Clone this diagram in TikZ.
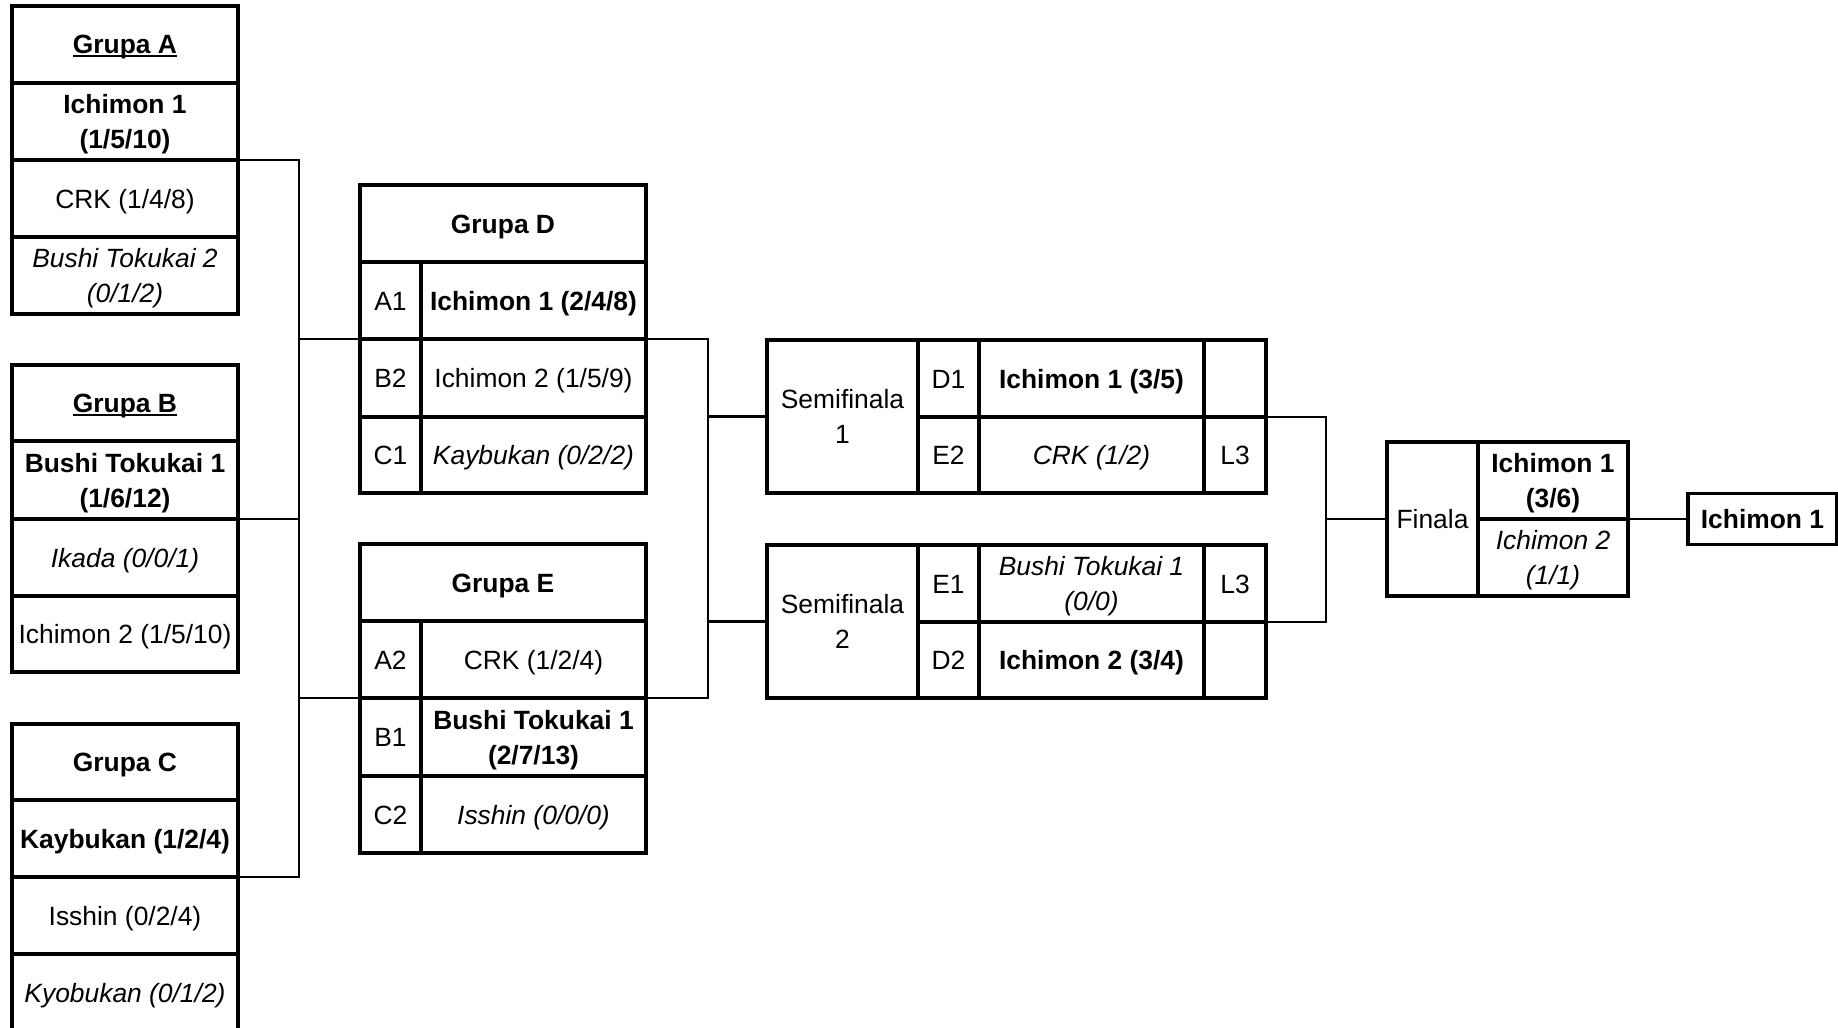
\documentclass[tikz,border=0pt]{standalone}
\usepackage{fontspec}
\setmainfont{Liberation Sans}
\newcommand\fsz{\fontsize{13.2}{17.5}\selectfont}
\newcommand\ulx[1]{\setbox0\hbox{#1}\rlap{\rule[-1.7pt]{\wd0}{1pt}}\box0}
\newcommand\mkcell[7][]{%
  \node[cellst,#1,minimum width={(#5-#3)*0.5pt},minimum height={(#6-#4)*0.5pt}] (#2) at ({(#3+#5)/2},{(#4+#6)/2}) {\rule[-3pt]{0pt}{15.5pt}#7\rule[-3pt]{0pt}{0pt}};}
\begin{document}
\begin{tikzpicture}[x=0.5pt,y=-0.5pt,
  cellst/.style={draw,line width=1.6pt,inner sep=0pt,outer sep=0pt,align=center,font=\fsz},
  txtbf/.style={font=\fsz\bfseries},
  txtit/.style={font=\fsz\itshape},
  conn/.style={line width=1.4pt}]
\useasboundingbox (0,0) rectangle (1838,1028);
\fill[white] (0,0) rectangle (1838,1028);
\begin{scope}
\clip (0,0) rectangle (1838,1028);
% Group A
\mkcell[txtbf]{ga}{12}{6}{238}{83}{\ulx{Grupa A}}
\mkcell[txtbf]{a1}{12}{83}{238}{160}{Ichimon 1\\(1/5/10)}
\mkcell{a2}{12}{160}{238}{237}{CRK (1/4/8)}
\mkcell[txtit]{a3}{12}{237}{238}{314}{Bushi Tokukai 2\\(0/1/2)}
% Group B
\mkcell[txtbf]{gb}{12}{365}{238}{441}{\ulx{Grupa B}}
\mkcell[txtbf]{b1}{12}{441}{238}{519}{Bushi Tokukai 1\\(1/6/12)}
\mkcell[txtit]{b2}{12}{519}{238}{596}{Ikada (0/0/1)}
\mkcell{b3}{12}{596}{238}{672}{Ichimon 2 (1/5/10)}
% Group C
\mkcell[txtbf]{gc}{12}{724}{238}{800}{Grupa C}
\mkcell[txtbf]{c1}{12}{800}{238}{877}{Kaybukan (1/2/4)}
\mkcell{c2}{12}{877}{238}{954}{Isshin (0/2/4)}
\mkcell[txtit]{c3}{12}{954}{238}{1031}{Kyobukan (0/1/2)}
% Group D
\mkcell[txtbf]{gd}{360}{185}{646}{262}{Grupa D}
\mkcell{dl1}{360}{262}{421}{339}{A1}
\mkcell[txtbf]{d1}{421}{262}{646}{339}{Ichimon 1 (2/4/8)}
\mkcell{dl2}{360}{339}{421}{417}{B2}
\mkcell{d2}{421}{339}{646}{417}{Ichimon 2 (1/5/9)}
\mkcell{dl3}{360}{417}{421}{493}{C1}
\mkcell[txtit]{d3}{421}{417}{646}{493}{Kaybukan (0/2/2)}
% Group E
\mkcell[txtbf]{ge}{360}{544}{646}{621}{Grupa E}
\mkcell{el1}{360}{621}{421}{698}{A2}
\mkcell{e1}{421}{621}{646}{698}{CRK (1/2/4)}
\mkcell{el2}{360}{698}{421}{776}{B1}
\mkcell[txtbf]{e2}{421}{698}{646}{776}{Bushi Tokukai 1\\(2/7/13)}
\mkcell{el3}{360}{776}{421}{853}{C2}
\mkcell[txtit]{e3}{421}{776}{646}{853}{Isshin (0/0/0)}
% Semifinal 1
\mkcell{s1t}{767}{340}{918}{493}{Semifinala\\1}
\mkcell{s1l1}{918}{340}{979}{417}{D1}
\mkcell[txtbf]{s1n1}{979}{340}{1204}{417}{Ichimon 1 (3/5)}
\mkcell{s1x1}{1204}{340}{1266}{417}{}
\mkcell{s1l2}{918}{417}{979}{493}{E2}
\mkcell[txtit]{s1n2}{979}{417}{1204}{493}{CRK (1/2)}
\mkcell{s1x2}{1204}{417}{1266}{493}{L3}
% Semifinal 2
\mkcell{s2t}{767}{545}{918}{698}{Semifinala\\2}
\mkcell{s2l1}{918}{545}{979}{622}{E1}
\mkcell[txtit]{s2n1}{979}{545}{1204}{622}{Bushi Tokukai 1\\(0/0)}
\mkcell{s2x1}{1204}{545}{1266}{622}{L3}
\mkcell{s2l2}{918}{622}{979}{698}{D2}
\mkcell[txtbf]{s2n2}{979}{622}{1204}{698}{Ichimon 2 (3/4)}
\mkcell{s2x2}{1204}{622}{1266}{698}{}
% Final
\mkcell{ft}{1387}{442}{1478}{596}{Finala}
\mkcell[txtbf]{f1}{1478}{442}{1628}{519}{Ichimon 1\\(3/6)}
\mkcell[txtit]{f2}{1478}{519}{1628}{596}{Ichimon 2\\(1/1)}
% Winner
\mkcell[txtbf]{w}{1688}{493.5}{1837}{544.5}{Ichimon 1}
% Connectors
\coordinate (j1) at (299,519);
\draw[conn] (a1.south east) -| (j1) |- (c1.south east);
\draw[conn] (b1.south east) -- (j1);
\draw[conn] (j1 |- dl1.south west) -- (dl1.south west);
\draw[conn] (j1 |- el1.south west) -- (el1.south west);
\coordinate (j2) at (708,519);
\draw[conn] (d1.south east) -| (j2) |- (e1.south east);
\draw[conn] (j2 |- s1t.west) -- (s1t.west);
\draw[conn] (j2 |- s2t.west) -- (s2t.west);
\coordinate (j3) at (1326,519);
\draw[conn] (s1x1.south east) -| (j3) |- (s2x1.south east);
\draw[conn] (j3 |- ft.west) -- (ft.west);
\draw[conn] (f1.south east) -- (w.west);
\end{scope}
\end{tikzpicture}
\end{document}
